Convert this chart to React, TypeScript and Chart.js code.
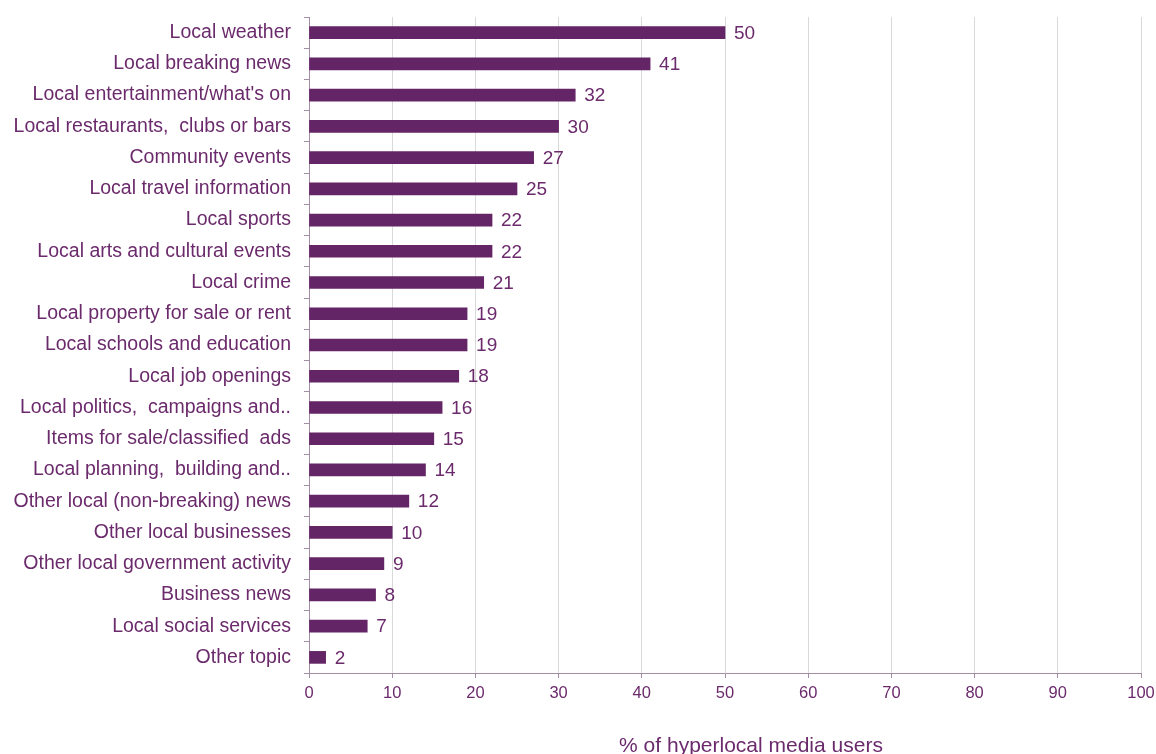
import React, { useEffect, useRef } from "react";
import { Chart, registerables } from "chart.js";

Chart.register(...registerables);

const categories = [
  "Local weather",
  "Local breaking news",
  "Local entertainment/what's on",
  "Local restaurants,  clubs or bars",
  "Community events",
  "Local travel information",
  "Local sports",
  "Local arts and cultural events",
  "Local crime",
  "Local property for sale or rent",
  "Local schools and education",
  "Local job openings",
  "Local politics,  campaigns and..",
  "Items for sale/classified  ads",
  "Local planning,  building and..",
  "Other local (non-breaking) news",
  "Other local businesses",
  "Other local government activity",
  "Business news",
  "Local social services",
  "Other topic",
];

const values = [50, 41, 32, 30, 27, 25, 22, 22, 21, 19, 19, 18, 16, 15, 14, 12, 10, 9, 8, 7, 2];

const xTicks = [0, 10, 20, 30, 40, 50, 60, 70, 80, 90, 100];
const axisTitle = "% of hyperlocal media users";

const PURPLE = "#632565";
const TEXT = "#6b2a6b";
const FONT = "'Liberation Sans', Arial, sans-serif";

export default function App() {
  const ref = useRef<HTMLCanvasElement | null>(null);

  useEffect(() => {
    document.body.style.margin = "0";
    const canvas = ref.current!;
    const labelPlugin = {
      id: "valueLabels",
      afterDatasetsDraw(chart: any) {
        const ctx = chart.ctx;
        const meta = chart.getDatasetMeta(0);
        ctx.save();
        ctx.fillStyle = TEXT;
        ctx.font = `19px ${FONT}`;
        ctx.textAlign = "left";
        ctx.textBaseline = "middle";
        meta.data.forEach((bar: any, i: number) => {
          ctx.fillText(String(values[i]), bar.x + 9, bar.y + 1);
        });
        ctx.restore();
      },
      afterDraw(chart: any) {
        const ctx = chart.ctx;
        ctx.save();
        ctx.fillStyle = TEXT;
        ctx.font = `21px ${FONT}`;
        ctx.textAlign = "center";
        ctx.textBaseline = "alphabetic";
        ctx.fillText(axisTitle, 751, 752);
        ctx.restore();
      },
    };

    const chart = new Chart(canvas, {
      type: "bar",
      data: {
        labels: categories,
        datasets: [
          {
            data: values,
            backgroundColor: PURPLE,
            borderWidth: 0,
            barThickness: 12,
          },
        ],
      },
      options: {
        indexAxis: "y",
        animation: false,
        responsive: false,
        maintainAspectRatio: false,
        layout: { padding: { top: 17, right: 15, left: 0, bottom: 0 } },
        plugins: {
          legend: { display: false },
          tooltip: { enabled: false },
        },
        scales: {
          x: {
            min: 0,
            max: 100,
            afterBuildTicks: (scale: any) => {
              scale.ticks = xTicks.map((v) => ({ value: v }));
            },
            afterFit: (scale: any) => {
              scale.height = 81;
              scale.paddingLeft = 0;
              scale.paddingRight = 0;
            },
            grid: {
              color: "#d9d9d9",
              lineWidth: 1,
              tickColor: "#a48ea4",
              tickLength: 5,
              drawTicks: true,
            },
            border: { color: "#a48ea4", width: 1 },
            ticks: {
              color: TEXT,
              font: { family: FONT, size: 16.5 },
              padding: 6,
              maxRotation: 0,
            },
          },
          y: {
            afterFit: (scale: any) => {
              scale.width = 309;
              scale.paddingTop = 0;
              scale.paddingBottom = 0;
            },
            grid: {
              offset: true,
              drawOnChartArea: false,
              tickColor: "#a48ea4",
              tickLength: 5,
            },
            border: { color: "#a48ea4", width: 1 },
            ticks: {
              color: TEXT,
              font: { family: FONT, size: 19.5 },
              padding: 13,
              autoSkip: false,
            },
          },
        },
      },
      plugins: [labelPlugin],
    } as any);

    return () => chart.destroy();
  }, []);

  return (
    <div style={{ position: "fixed", left: 0, top: 0, width: 1156, height: 754, background: "#fff" }}>
      <canvas ref={ref} width={1156} height={754} style={{ display: "block", width: 1156, height: 754 }} />
    </div>
  );
}
